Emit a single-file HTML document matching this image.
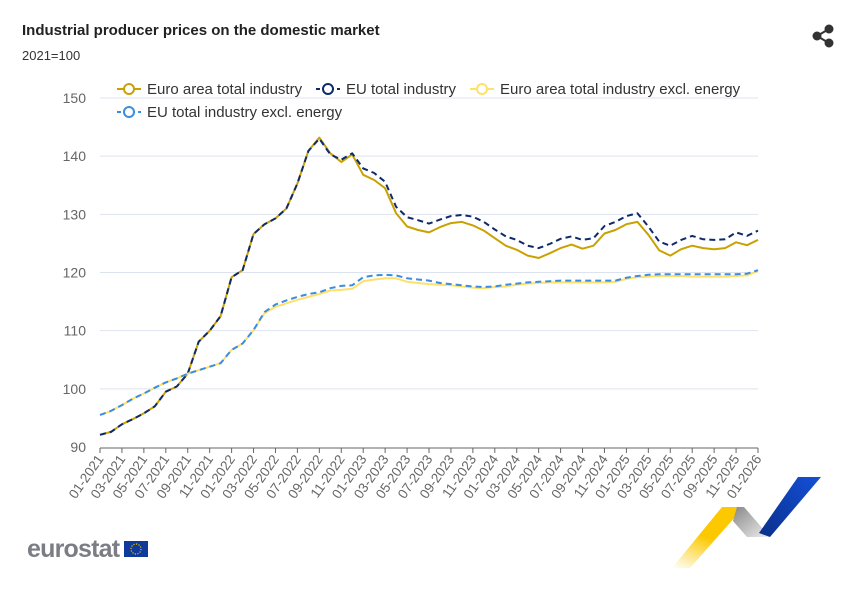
<!DOCTYPE html>
<html><head><meta charset="utf-8"><style>
body{margin:0;background:#fff;font-family:"Liberation Sans",sans-serif}
#wrap{position:relative;width:853px;height:589px;overflow:hidden}
</style></head><body>
<div id="wrap">
<svg id="chart" width="853" height="589">
<text x="22" y="35" font-size="15" font-weight="bold" fill="#222">Industrial producer prices on the domestic market</text>
<text x="22" y="60" font-size="13" fill="#333">2021=100</text>
<g fill="#333" stroke="#333" stroke-width="2">
<line x1="817" y1="36" x2="829" y2="29"/><line x1="817" y1="36" x2="829" y2="43"/>
<circle cx="817" cy="36" r="3.5"/><circle cx="829" cy="29" r="3.5"/><circle cx="829" cy="43" r="3.5"/>
</g>
<g id="grid"></g><g id="axes"></g><g id="series"></g>
<g id="legend" font-size="15" fill="#333"></g>
<g>
<text x="27" y="557" font-size="25" font-weight="bold" fill="#7a7d85" letter-spacing="-0.8">eurostat</text>
<rect x="124" y="541" width="24" height="16" fill="#0d3a9b"/>
<circle cx="136" cy="549" r="5" fill="none" stroke="#f5c400" stroke-width="1.2" stroke-dasharray="1.2 1.4"/>
</g>
<g>
<defs>
<linearGradient id="yg" x1="0" y1="1" x2="0.5" y2="0"><stop offset="0" stop-color="#fff"/><stop offset="0.6" stop-color="#fcc800"/></linearGradient>
<linearGradient id="gg" x1="0" y1="0" x2="1" y2="1"><stop offset="0" stop-color="#888"/><stop offset="1" stop-color="#eee"/></linearGradient>
<linearGradient id="bg" x1="0" y1="1" x2="1" y2="0"><stop offset="0" stop-color="#0a2f8a"/><stop offset="1" stop-color="#1450d8"/></linearGradient>
</defs>
<polygon points="672,568 690,568 744,507 722,507" fill="url(#yg)"/>
<polygon points="737,507 744,507 770,537 747,537 733,521" fill="url(#gg)"/>
<polygon points="759,533 770,537 821,477 798,477" fill="url(#bg)"/>
</g>
</svg>
</div>
<script>
const months = [];
for (let y = 2021; y <= 2026; y++) for (let m = 1; m <= 12; m++) { if (y === 2026 && m > 1) break; months.push(String(m).padStart(2,'0') + '-' + y); }
const yTicks = [90,100,110,120,130,140,150];
const eaTotal = [92.1,92.6,93.9,94.8,95.8,97.0,99.5,100.4,102.6,108.1,110.0,112.5,119.2,120.4,126.6,128.3,129.3,131.0,135.3,140.9,143.2,140.5,139.0,140.3,136.8,135.9,134.5,130.2,127.9,127.3,126.9,127.8,128.5,128.7,128.1,127.2,125.9,124.6,123.9,122.9,122.5,123.3,124.2,124.8,124.1,124.6,126.7,127.3,128.3,128.7,126.5,123.8,122.9,124.0,124.6,124.2,124.0,124.2,125.2,124.7,125.6];
const euTotal = [92.1,92.6,93.9,94.8,95.8,97.0,99.5,100.4,102.6,108.1,110.0,112.5,119.2,120.4,126.6,128.3,129.3,131.0,135.3,140.9,143.0,140.3,139.4,140.5,137.9,137.1,135.6,131.3,129.5,129.0,128.4,129.1,129.7,129.9,129.6,128.7,127.4,126.2,125.6,124.6,124.2,124.9,125.8,126.2,125.6,125.9,128.0,128.7,129.7,130.2,127.9,125.3,124.6,125.6,126.3,125.7,125.6,125.7,126.9,126.3,127.2];
const eaExcl = [95.5,96.2,97.2,98.3,99.2,100.2,101.1,101.8,102.6,103.2,103.8,104.4,106.7,107.8,110.1,113.0,114.1,114.7,115.3,115.8,116.3,116.9,117.0,117.2,118.5,118.8,119.0,119.0,118.4,118.2,118.0,117.9,117.8,117.6,117.4,117.3,117.5,117.6,117.9,118.1,118.2,118.3,118.3,118.3,118.3,118.3,118.3,118.4,118.9,119.2,119.3,119.4,119.4,119.4,119.3,119.3,119.3,119.3,119.4,119.5,120.3];
const euExcl = [95.5,96.2,97.2,98.3,99.2,100.2,101.1,101.8,102.6,103.2,103.8,104.4,106.7,107.8,110.1,113.2,114.5,115.2,115.8,116.3,116.6,117.3,117.7,117.8,119.2,119.5,119.6,119.5,119.0,118.8,118.6,118.2,118.0,117.8,117.6,117.5,117.6,117.9,118.1,118.3,118.4,118.5,118.6,118.6,118.6,118.6,118.6,118.6,119.1,119.4,119.6,119.7,119.7,119.7,119.7,119.7,119.7,119.7,119.7,119.8,120.4];
const legendLabels = ['Euro area total industry','EU total industry','Euro area total industry excl. energy','EU total industry excl. energy'];

const NS='http://www.w3.org/2000/svg';
const X0=100, X1=758, Y0=447, Y1=98, VMIN=90, VMAX=150;
const xs = i => X0 + i*(X1-X0)/(months.length-1);
const ys = v => Y0 - (v-VMIN)*(Y0-Y1)/(VMAX-VMIN);
function mk(tag, attrs, parent){const e=document.createElementNS(NS,tag);for(const k in attrs)e.setAttribute(k,attrs[k]);parent.appendChild(e);return e;}
const grid=document.getElementById('grid'), axes=document.getElementById('axes'), ser=document.getElementById('series'), leg=document.getElementById('legend');
yTicks.forEach(v=>{
  if(v>VMIN){const l=mk('line',{x1:X0,x2:X1,y1:ys(v),y2:ys(v),stroke:'#dde3ee','stroke-width':1},grid);
  
  }
  const t=mk('text',{x:86,y:ys(v)+5,'text-anchor':'end','font-size':14,fill:'#666'},axes);
  t.textContent=v;
  
  
});
const ax=mk('line',{x1:X0,x2:X1,y1:Y0+1,y2:Y0+1,stroke:'#666','stroke-width':1},axes);


months.forEach((m,i)=>{
  if(i%2) return;
  const x=xs(i);
  mk('line',{x1:x,x2:x,y1:Y0+1,y2:Y0+6,stroke:'#666'},axes);
  const t=mk('text',{x:0,y:0,'text-anchor':'end','font-size':13.5,fill:'#666',transform:`translate(${x+4},${Y0+12}) rotate(-55)`},axes);
  t.textContent=m;
  
  
});
const specs=[
 {d:eaTotal,c:'#c9a100',dash:'',w:2,n:'euro-area-total-line'},
 {d:euTotal,c:'#0e2a6b',dash:'6 4',w:2,n:'eu-total-line'},
 {d:eaExcl,c:'#ffe06a',dash:'',w:2,n:'euro-area-excl-energy-line'},
 {d:euExcl,c:'#3a8de0',dash:'6 4',w:2,n:'eu-excl-energy-line'}];
specs.forEach(s=>{
  const p=mk('path',{d:s.d.map((v,i)=>(i?'L':'M')+xs(i).toFixed(1)+','+ys(v).toFixed(1)).join(''),fill:'none',stroke:s.c,'stroke-width':s.w,'stroke-dasharray':s.dash,'stroke-linejoin':'round'},ser);
  
  
});
const legPos=[[117,89],[316,89],[470,89],[117,112]];
specs.forEach((s,i)=>{
  const [x,y]=legPos[i];
  const g=mk('g',{},leg);
  
  
  mk('line',{x1:x,x2:x+24,y1:y,y2:y,stroke:s.c,'stroke-width':2,'stroke-dasharray':s.dash?'4 3':''},g);
  mk('circle',{cx:x+12,cy:y,r:5,fill:'#fff',stroke:s.c,'stroke-width':2},g);
  const t=mk('text',{x:x+30,y:y+5},g);
  t.textContent=legendLabels[i];
});
</script>
</body></html>
